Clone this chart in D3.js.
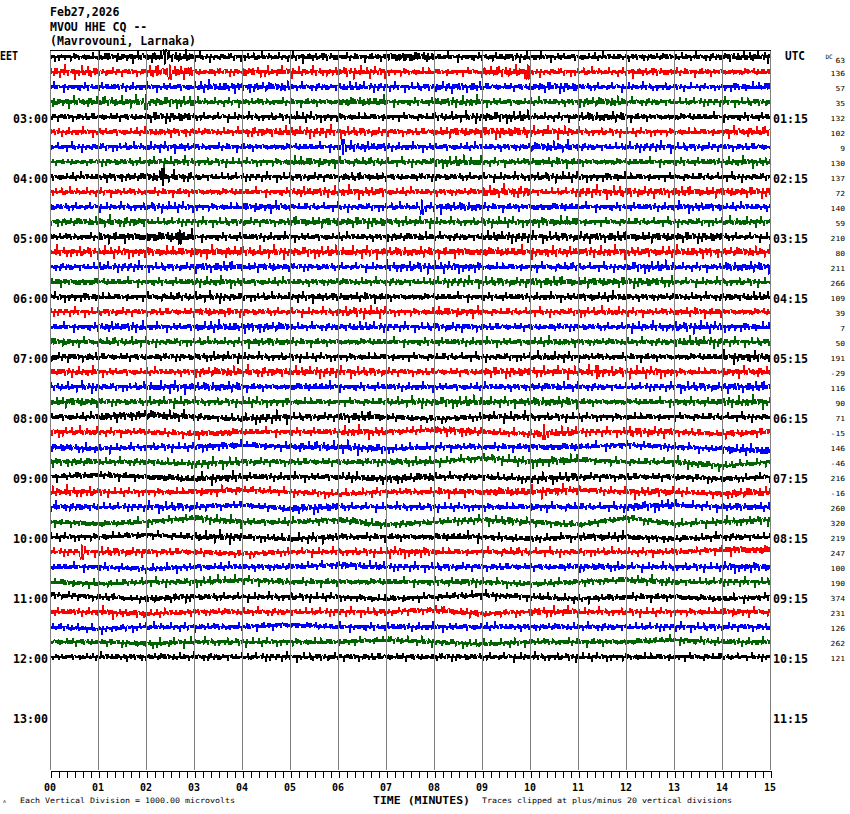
<!DOCTYPE html>
<html>
<head>
<meta charset="utf-8">
<script src="https://cdn.jsdelivr.net/npm/d3@7"></script>
<style>
  body { margin: 0; background: #fff; }
  svg { display: block; }
  text { font-family: "DejaVu Sans Mono", "Liberation Mono", monospace; fill: #000; }
</style>
</head>
<body>
<svg id="heli" width="850" height="814"></svg>
<script>
// ---- chart data ----
var headerLines = ["Feb27,2026", "MVOU HHE CQ --", "(Mavrovouni, Larnaka)"];
var localHours = ["03:00", "04:00", "05:00", "06:00", "07:00", "08:00", "09:00", "10:00", "11:00", "12:00", "13:00"];
var utcHours = ["01:15", "02:15", "03:15", "04:15", "05:15", "06:15", "07:15", "08:15", "09:15", "10:15", "11:15"];
var minuteLabels = ["00", "01", "02", "03", "04", "05", "06", "07", "08", "09", "10", "11", "12", "13", "14", "15"];
var dcOffsets = [63, 136, 57, 35, 132, 102, 9, 130, 137, 72, 140, 59, 210, 80, 211, 266, 109, 39, 7, 50,
  191, -29, 116, 90, 71, -15, 146, -46, 216, -16, 260, 320, 219, 247, 100, 190, 374, 231, 126, 262, 121];
var traceColors = ["#000000", "#ff0000", "#0000ff", "#006400"];

// peak amplitude of each trace, one value per minute (µV)
var amplitude = [
  [300, 400, 450, 300, 300, 350, 300, 450, 300, 350, 300, 300, 300, 300, 400],
  [400, 300, 500, 300, 400, 350, 400, 300, 300, 450, 300, 300, 350, 300, 300],
  [300, 300, 300, 400, 400, 300, 350, 300, 400, 300, 400, 300, 300, 250, 350],
  [400, 400, 400, 300, 300, 300, 400, 300, 400, 300, 300, 400, 300, 300, 300],
  [300, 300, 400, 300, 300, 350, 300, 300, 350, 400, 300, 400, 300, 300, 300],
  [300, 300, 350, 300, 400, 400, 350, 300, 400, 450, 400, 300, 300, 300, 400],
  [300, 300, 350, 300, 300, 300, 400, 300, 300, 300, 400, 300, 350, 300, 300],
  [250, 300, 350, 300, 300, 400, 350, 300, 400, 300, 350, 300, 300, 300, 350],
  [300, 350, 400, 300, 300, 300, 350, 300, 300, 300, 350, 350, 300, 300, 300],
  [300, 300, 300, 300, 300, 400, 400, 300, 300, 450, 300, 400, 400, 400, 400],
  [300, 300, 350, 300, 400, 300, 300, 300, 400, 300, 350, 300, 300, 350, 300],
  [350, 400, 300, 300, 300, 400, 400, 350, 300, 350, 400, 300, 300, 300, 350],
  [300, 400, 450, 300, 300, 300, 300, 350, 300, 400, 350, 400, 400, 400, 300],
  [400, 400, 400, 450, 400, 400, 400, 400, 400, 400, 400, 400, 400, 400, 400],
  [300, 350, 300, 400, 350, 300, 300, 400, 400, 300, 350, 300, 400, 300, 400],
  [350, 300, 300, 350, 300, 300, 300, 300, 350, 350, 400, 400, 400, 300, 300],
  [350, 300, 350, 350, 300, 350, 350, 300, 300, 300, 300, 350, 300, 300, 350],
  [300, 300, 300, 350, 300, 300, 400, 300, 400, 300, 300, 350, 300, 350, 300],
  [300, 400, 300, 400, 400, 300, 350, 300, 350, 300, 300, 300, 350, 400, 350],
  [350, 350, 300, 300, 350, 300, 300, 300, 300, 300, 350, 300, 300, 400, 300],
  [350, 300, 300, 350, 300, 300, 300, 300, 300, 300, 350, 300, 300, 300, 400],
  [350, 300, 300, 400, 400, 400, 350, 300, 300, 400, 400, 400, 400, 300, 400],
  [350, 300, 400, 400, 300, 350, 300, 300, 300, 300, 350, 300, 300, 350, 400],
  [400, 300, 350, 300, 350, 300, 300, 350, 400, 350, 400, 300, 300, 350, 400],
  [300, 400, 400, 300, 400, 300, 400, 300, 300, 350, 300, 300, 300, 300, 300],
  [350, 300, 300, 350, 300, 300, 400, 300, 400, 300, 400, 300, 400, 300, 350],
  [350, 300, 300, 350, 300, 400, 400, 300, 300, 300, 350, 300, 300, 300, 400],
  [350, 300, 300, 350, 300, 300, 300, 350, 300, 350, 400, 300, 300, 350, 300],
  [300, 300, 350, 400, 300, 300, 350, 400, 300, 300, 350, 300, 300, 300, 300],
  [400, 300, 300, 350, 300, 300, 300, 300, 350, 400, 400, 300, 400, 300, 400],
  [350, 300, 350, 300, 300, 400, 300, 300, 300, 300, 350, 300, 400, 300, 350],
  [300, 300, 300, 350, 300, 300, 350, 300, 300, 350, 300, 300, 300, 300, 350],
  [300, 300, 300, 400, 300, 350, 300, 300, 350, 300, 300, 350, 300, 300, 300],
  [300, 350, 300, 300, 300, 300, 300, 400, 300, 350, 300, 300, 300, 300, 400],
  [300, 300, 300, 300, 300, 300, 350, 300, 300, 300, 300, 350, 300, 300, 400],
  [300, 300, 300, 350, 300, 300, 300, 300, 350, 300, 300, 300, 350, 300, 300],
  [300, 300, 350, 300, 300, 300, 300, 300, 300, 300, 300, 300, 300, 300, 300],
  [300, 350, 300, 300, 300, 300, 300, 300, 350, 300, 400, 300, 300, 300, 350],
  [300, 300, 300, 300, 300, 300, 300, 300, 300, 300, 300, 300, 300, 300, 300],
  [300, 300, 350, 300, 300, 300, 300, 300, 300, 300, 300, 300, 300, 300, 300],
  [250, 300, 300, 300, 300, 300, 300, 300, 300, 300, 300, 300, 300, 300, 250]
];

// slow drift of the trace centre at each whole minute (µV, up = positive)
var drift = [
  [0,0,0,0,0,0,0,0,0,0,0,0,0,0,0,0], [0,0,0,0,0,0,0,0,0,0,0,0,0,0,0,0],
  [0,0,0,0,0,0,0,0,0,0,0,0,0,0,0,0], [0,0,0,0,0,0,0,0,0,0,0,0,0,0,0,0],
  [0,0,0,0,0,0,0,0,0,0,0,0,0,0,0,0], [0,0,0,0,0,0,0,0,0,0,0,0,0,0,0,0],
  [0,0,0,0,0,0,0,0,0,0,0,0,0,0,0,0], [0,0,0,0,0,0,0,0,0,0,0,0,0,0,0,0],
  [0,0,0,0,0,0,0,0,0,0,0,0,0,0,0,0], [0,0,0,0,0,0,0,0,0,0,0,0,0,0,0,0],
  [0,0,0,0,0,0,0,0,0,0,0,0,0,0,0,0], [0,0,0,0,0,0,0,0,0,0,0,0,0,0,0,0],
  [0,0,0,0,0,0,0,0,0,0,0,0,0,0,0,0], [0,0,0,0,0,0,0,0,0,0,0,0,0,0,0,0],
  [0,0,0,0,0,0,0,0,0,0,0,0,0,0,0,0], [0,0,0,0,0,0,0,0,0,0,0,0,0,0,0,0],
  [0,0,0,0,0,0,0,0,0,0,0,0,0,0,0,0], [0,0,0,0,0,0,0,0,0,0,0,0,0,0,0,0],
  [0,0,0,0,0,0,0,0,0,0,0,0,0,0,0,0], [0,0,0,0,0,0,0,0,0,0,0,0,0,0,0,0],
  [0,0,0,0,0,0,0,0,0,0,0,0,0,0,0,0], [0,0,0,0,0,0,0,0,0,0,0,0,0,0,0,0],
  [0,0,0,0,0,0,0,0,0,0,0,0,0,0,0,0], [0,0,0,0,0,0,0,0,0,0,0,0,0,0,0,0],
  [0,0,100,0,-100,0,0,0,-100,0,0,0,0,0,0,0],
  [0,0,0,-100,0,0,0,0,100,0,-100,0,0,0,-100,0],
  [0,-100,0,0,100,0,0,-100,0,0,0,0,100,0,-100,-200],
  [0,0,0,-100,0,0,0,0,0,200,0,100,0,0,-200,0],
  [0,100,0,-100,0,0,0,-100,0,0,-100,0,0,0,-100,0],
  [0,0,0,0,100,0,-100,0,0,0,0,100,0,0,-100,0],
  [0,0,0,0,100,-100,0,0,0,0,0,0,0,100,0,0],
  [0,-100,0,200,0,0,100,-150,0,100,0,-150,200,-100,0,100],
  [0,0,100,0,0,-100,0,0,0,0,-100,0,0,-100,0,0],
  [0,0,0,0,-100,0,0,0,0,0,0,0,0,0,100,100],
  [0,0,-100,0,0,0,100,0,0,0,0,0,0,0,0,0],
  [0,-100,0,0,100,0,0,0,0,0,-100,0,100,0,0,0],
  [100,0,-100,0,0,0,0,-100,0,100,0,-100,0,0,-100,0],
  [0,0,-100,0,0,0,0,0,100,-100,0,0,0,0,0,0],
  [0,-100,0,0,0,100,0,0,0,0,0,0,0,0,0,0],
  [0,0,-100,0,0,0,0,100,0,-100,0,0,0,100,0,0],
  [0,0,0,0,0,0,0,0,0,0,0,0,0,0,0,0]
];

// isolated spikes: [trace, minute, peak µV]
var spikes = [[0, 2.4, 380], [1, 2.5, 380], [1, 9.95, 380], [3, 2.0, 420], [6, 6.1, 400],
  [8, 2.35, 450], [10, 7.75, 380], [12, 2.7, 380], [25, 10.3, 400], [33, 0.66, 380], [21, 11.4, 350]];

// fixed wiggle pattern used to draw the trace texture
var wiggleA = [0.45, -0.35, 0.6, -0.3, 0.4, -1, 0.5, -0.4, 0.3, -0.65, 0.45, -0.35, 0.9, -0.4, 0.3, -0.55,
  0.45, -0.3, 0.75, -0.45, 0.35, -0.85, 0.4, -0.3, 0.6, -0.4, 1, -0.35, 0.5, -0.6, 0.3];
var wiggleB = [1, 0.55, 0.85, 0.4, 0.95, 0.6, 0.45, 1, 0.7, 0.4, 0.9, 0.55, 1, 0.5, 0.8, 0.35, 0.65];

// ---- drawing ----
var svg = d3.select("#heli");
var x = d3.scaleLinear().domain([0, 15]).range([50, 770]);
var row = d3.scaleLinear().domain([0, 44]).range([57, 717]);
var uv = d3.scaleLinear().domain([-1000, 1000]).range([20, -20]);
var minutesIdx = d3.range(16);
var perMinute = 48;

var traceG = svg.append("g").attr("class", "traces");

amplitude.forEach(function (amps, i) {
  var driftScale = d3.scaleLinear().domain(minutesIdx).range(drift[i]);
  var mySpikes = spikes.filter(function (s) { return s[0] === i; });
  var pts = d3.range(0, 15 * perMinute + 1).map(function (j) {
    var t = j / perMinute;
    var a = amps[Math.min(14, Math.floor(t))];
    var w = wiggleA[(j + 11 * i) % wiggleA.length] * wiggleB[(Math.floor(j / 2) + 5 * i) % wiggleB.length];
    var v = driftScale(t) + a * w;
    mySpikes.forEach(function (s) {
      if (Math.abs(t - s[1]) < 1.5 / perMinute) v = (j % 2 ? -1 : 1) * s[2];
    });
    return { t: t, v: v };
  });
  var line = d3.line()
    .x(function (d) { return x(d.t); })
    .y(function (d) { return row(i) + uv(d.v) - uv(0); });
  traceG.append("path")
    .attr("d", line(pts))
    .attr("fill", "none")
    .attr("stroke", traceColors[i % 4])
    .attr("stroke-width", 1)
    .attr("shape-rendering", "crispEdges");
});

// minute grid lines
svg.append("g").selectAll("line")
  .data(minutesIdx)
  .enter().append("line")
  .attr("x1", function (d) { return Math.round(x(d)) + 0.5; })
  .attr("x2", function (d) { return Math.round(x(d)) + 0.5; })
  .attr("y1", 50)
  .attr("y2", 770)
  .attr("stroke", "#808080")
  .attr("stroke-width", 1);

// top rule
svg.append("line")
  .attr("x1", 50).attr("x2", 771)
  .attr("y1", 50.5).attr("y2", 50.5)
  .attr("stroke", "#000");

// bottom axis: 10-second ticks
var minorAxis = d3.axisBottom(x)
  .tickValues(d3.range(0, 15 * 6 + 1).map(function (k) { return k / 6; }))
  .tickSize(7)
  .tickSizeOuter(0)
  .tickFormat("");
var axisG = svg.append("g")
  .attr("transform", "translate(0.5,770.5)")
  .call(minorAxis);
axisG.select(".domain").attr("stroke", "#000").attr("shape-rendering", "crispEdges");
axisG.selectAll(".tick line").attr("stroke", "#000").attr("shape-rendering", "crispEdges");

svg.append("g").selectAll("text")
  .data(minuteLabels)
  .enter().append("text")
  .attr("x", function (d, k) { return x(k); })
  .attr("y", 791)
  .attr("text-anchor", "middle")
  .attr("font-size", 10)
  .attr("font-weight", "bold")
  .attr("textLength", 12)
  .attr("lengthAdjust", "spacingAndGlyphs")
  .text(function (d) { return d; });

// header
svg.append("g").selectAll("text")
  .data(headerLines)
  .enter().append("text")
  .attr("x", 50)
  .attr("y", function (d, k) { return 16 + k * 14.5; })
  .attr("font-size", 11.5)
  .attr("font-weight", "bold")
  .attr("textLength", function (d) { return d.length * 6.95; })
  .attr("lengthAdjust", "spacingAndGlyphs")
  .text(function (d) { return d; });

// time zone captions
svg.append("text").attr("x", 0).attr("y", 60).attr("font-size", 11.5).attr("font-weight", "bold")
  .attr("textLength", 18).attr("lengthAdjust", "spacingAndGlyphs").text("EET");
svg.append("text").attr("x", 785).attr("y", 60).attr("font-size", 11.5).attr("font-weight", "bold")
  .attr("textLength", 20).attr("lengthAdjust", "spacingAndGlyphs").text("UTC");

// hour labels every 4 traces
var hourRows = d3.range(4, 45, 4);
svg.append("g").selectAll("text")
  .data(localHours)
  .enter().append("text")
  .attr("x", 48)
  .attr("y", function (d, k) { return row(hourRows[k]) + 6; })
  .attr("text-anchor", "end")
  .attr("font-size", 12)
  .attr("font-weight", "bold")
  .attr("textLength", 35)
  .attr("lengthAdjust", "spacingAndGlyphs")
  .text(function (d) { return d; });
svg.append("g").selectAll("text")
  .data(utcHours)
  .enter().append("text")
  .attr("x", 773)
  .attr("y", function (d, k) { return row(hourRows[k]) + 6; })
  .attr("font-size", 12)
  .attr("font-weight", "bold")
  .attr("textLength", 35)
  .attr("lengthAdjust", "spacingAndGlyphs")
  .text(function (d) { return d; });

// DC offsets on the right
svg.append("text").attr("x", 825.5).attr("y", 59).attr("font-size", 6).text("DC");
svg.append("g").selectAll("text")
  .data(dcOffsets)
  .enter().append("text")
  .attr("x", 845)
  .attr("y", function (d, k) { return row(k) + (k === 0 ? 5.7 : 3.6); })
  .attr("text-anchor", "end")
  .attr("font-size", 7)
  .attr("textLength", function (d) { return String(d).length * 4.8; })
  .attr("lengthAdjust", "spacingAndGlyphs")
  .text(function (d) { return d; });

// footer
svg.append("text").attr("x", 373).attr("y", 804).attr("font-size", 10.5).attr("font-weight", "bold")
  .attr("textLength", 97).attr("lengthAdjust", "spacingAndGlyphs").text("TIME (MINUTES)");
svg.append("text").attr("x", 20).attr("y", 803).attr("font-size", 7.5)
  .attr("textLength", 215).attr("lengthAdjust", "spacingAndGlyphs")
  .text("Each Vertical Division = 1000.00 microvolts");
svg.append("text").attr("x", 482).attr("y", 803).attr("font-size", 7.5)
  .attr("textLength", 250).attr("lengthAdjust", "spacingAndGlyphs")
  .text("Traces clipped at plus/minus 20 vertical divisions");
svg.append("text").attr("x", 3).attr("y", 803).attr("font-size", 5).text("ʌ");
</script>
</body>
</html>
